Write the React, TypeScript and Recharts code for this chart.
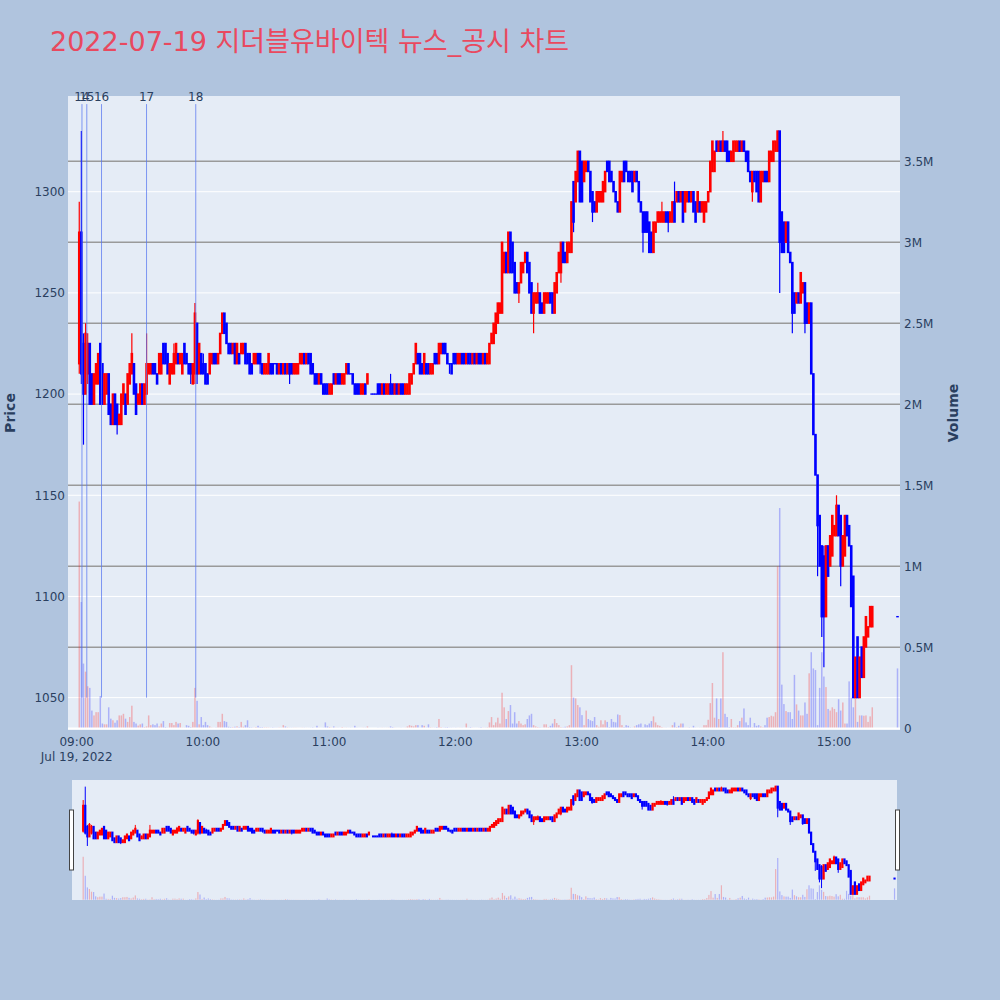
import React from 'react'
import { ComposedChart, Bar, XAxis, YAxis, CartesianGrid, ReferenceLine } from 'recharts'

// 1-minute candles, [open, high, low, close]; index = minute of the hour, null = no trade
const bars0900 = [
  null,
  [1215, 1295, 1210, 1280], [1280, 1330, 1205, 1210], [1225, 1230, 1175, 1200], [1200, 1235, 1200, 1230],
  [1210, 1230, 1205, 1225], [1225, 1225, 1195, 1195], [1210, 1210, 1195, 1195], [1195, 1210, 1195, 1210],
  [1205, 1215, 1205, 1215], [1205, 1220, 1205, 1220], [1225, 1225, 1195, 1195], [1215, 1215, 1195, 1195],
  [1195, 1210, 1195, 1210], [1200, 1210, 1200, 1210], [1210, 1210, 1190, 1190], [1195, 1195, 1185, 1185],
  [1185, 1200, 1185, 1200], [1200, 1200, 1185, 1185], [1195, 1195, 1180, 1185], [1185, 1190, 1185, 1190],
  [1185, 1200, 1185, 1200], [1195, 1205, 1195, 1205], [1200, 1200, 1190, 1190], [1195, 1210, 1195, 1210],
  [1205, 1215, 1205, 1215], [1210, 1230, 1210, 1220], [1215, 1215, 1200, 1200], [1205, 1205, 1190, 1190],
  [1195, 1200, 1195, 1200], [1195, 1205, 1195, 1205], [1205, 1205, 1195, 1195], [1195, 1205, 1195, 1205],
  [1200, 1230, 1200, 1215], [1210, 1215, 1210, 1215], [1210, 1215, 1210, 1215], [1215, 1215, 1210, 1210],
  [1215, 1215, 1210, 1210], [1210, 1210, 1205, 1205], [1210, 1220, 1210, 1220], [1210, 1220, 1210, 1220],
  [1225, 1225, 1215, 1215], [1225, 1225, 1215, 1215], [1220, 1220, 1210, 1210], [1205, 1215, 1205, 1215],
  [1210, 1215, 1210, 1215], [1210, 1225, 1210, 1220], [1215, 1225, 1215, 1225], [1220, 1220, 1215, 1215],
  [1215, 1220, 1215, 1220], [1210, 1220, 1210, 1220], [1225, 1225, 1215, 1215], [1220, 1220, 1215, 1215],
  [1215, 1215, 1210, 1210], [1215, 1215, 1205, 1210], [1205, 1215, 1205, 1215], [1210, 1245, 1205, 1240],
  [1235, 1235, 1205, 1210], [1210, 1225, 1210, 1225], [1220, 1220, 1210, 1210],
]
const bars1000 = [
  [1215, 1220, 1210, 1210], [1215, 1215, 1205, 1205], [1210, 1210, 1205, 1205], [1210, 1220, 1210, 1220],
  [1215, 1220, 1215, 1220], [1220, 1220, 1215, 1215], [1220, 1220, 1215, 1215], [1215, 1220, 1215, 1220],
  [1220, 1230, 1220, 1230], [1230, 1240, 1230, 1240], [1240, 1240, 1230, 1230], [1235, 1235, 1225, 1225],
  [1225, 1225, 1220, 1220], [1225, 1225, 1220, 1220], [1220, 1225, 1220, 1225], [1225, 1225, 1215, 1215],
  [1215, 1225, 1215, 1225], [1220, 1220, 1215, 1215], [1220, 1225, 1220, 1225], [1220, 1225, 1220, 1225],
  [1225, 1225, 1215, 1215], [1220, 1220, 1215, 1215], [1220, 1220, 1210, 1210], [1215, 1215, 1210, 1210],
  [1215, 1220, 1215, 1220], [1215, 1220, 1215, 1220], [1220, 1220, 1215, 1215], [1220, 1220, 1210, 1215],
  [1215, 1215, 1210, 1210], [1210, 1215, 1210, 1215], [1210, 1215, 1210, 1215], [1210, 1220, 1210, 1220],
  [1215, 1215, 1210, 1210], [1215, 1215, 1210, 1210], [1215, 1215, 1215, 1215], [1215, 1215, 1210, 1210],
  [1210, 1215, 1210, 1215], [1215, 1215, 1210, 1210], [1210, 1215, 1210, 1215], [1215, 1215, 1210, 1210],
  [1210, 1215, 1210, 1215], [1215, 1215, 1205, 1210], [1215, 1215, 1210, 1210], [1210, 1215, 1210, 1215],
  [1210, 1215, 1210, 1215], [1210, 1215, 1210, 1215], [1215, 1220, 1215, 1220], [1215, 1220, 1215, 1220],
  [1220, 1220, 1215, 1215], [1215, 1220, 1215, 1220], [1220, 1220, 1215, 1215], [1220, 1220, 1210, 1210],
  [1215, 1215, 1210, 1210], [1210, 1210, 1205, 1205], [1210, 1210, 1205, 1205], [1205, 1210, 1205, 1210],
  [1210, 1210, 1205, 1205], [1205, 1205, 1200, 1200], [1205, 1205, 1200, 1200], [1205, 1205, 1200, 1200],
]
const bars1100 = [
  [1200, 1205, 1200, 1205], [1200, 1205, 1200, 1205], [1210, 1210, 1205, 1205], [1205, 1210, 1205, 1210],
  [1210, 1210, 1205, 1205], [1210, 1210, 1205, 1205], [1205, 1210, 1205, 1210], [1205, 1210, 1205, 1210],
  [1210, 1215, 1210, 1215], [1215, 1215, 1210, 1210], [1210, 1210, 1210, 1210], [1210, 1210, 1205, 1205],
  [1205, 1205, 1200, 1200], [1205, 1205, 1200, 1200], [1205, 1205, 1200, 1200], [1200, 1205, 1200, 1205],
  [1200, 1205, 1200, 1205], [1205, 1205, 1200, 1200], [1205, 1210, 1205, 1210], null,
  [1200, 1200, 1200, 1200], [1200, 1200, 1200, 1200], [1200, 1200, 1200, 1200], [1205, 1205, 1200, 1200],
  [1205, 1205, 1200, 1200], [1200, 1205, 1200, 1205], [1205, 1205, 1200, 1200], [1200, 1205, 1200, 1205],
  [1200, 1205, 1200, 1205], [1205, 1210, 1200, 1200], [1205, 1205, 1200, 1200], [1200, 1205, 1200, 1205],
  [1205, 1205, 1200, 1200], [1200, 1205, 1200, 1205], [1205, 1205, 1200, 1200], [1205, 1205, 1200, 1200],
  [1200, 1205, 1200, 1205], [1200, 1205, 1200, 1205], [1200, 1210, 1200, 1210], [1205, 1210, 1205, 1210],
  [1210, 1215, 1210, 1215], [1215, 1225, 1215, 1225], [1220, 1220, 1215, 1215], [1220, 1220, 1210, 1210],
  [1215, 1215, 1210, 1210], [1210, 1220, 1210, 1220], [1215, 1215, 1210, 1210], [1215, 1215, 1210, 1210],
  [1210, 1215, 1210, 1215], [1210, 1215, 1210, 1215], [1220, 1220, 1215, 1215], [1220, 1220, 1215, 1215],
  [1215, 1225, 1215, 1225], [1220, 1225, 1220, 1225], [1225, 1225, 1220, 1220], [1225, 1225, 1220, 1220],
  [1220, 1220, 1215, 1215], [1215, 1215, 1210, 1215], [1215, 1215, 1210, 1210], [1220, 1220, 1215, 1215],
]
const bars1200 = [
  [1220, 1220, 1215, 1215], [1215, 1220, 1215, 1220], [1215, 1220, 1215, 1220], [1220, 1220, 1215, 1215],
  [1220, 1220, 1215, 1215], [1215, 1220, 1215, 1220], [1220, 1220, 1215, 1215], [1220, 1220, 1215, 1215],
  [1215, 1220, 1215, 1220], [1220, 1220, 1215, 1215], [1215, 1220, 1215, 1220], [1220, 1220, 1215, 1215],
  [1220, 1220, 1215, 1215], [1215, 1220, 1215, 1220], [1220, 1220, 1215, 1215], [1215, 1220, 1215, 1220],
  [1215, 1225, 1215, 1225], [1225, 1230, 1225, 1230], [1225, 1235, 1225, 1235], [1230, 1240, 1230, 1240],
  [1235, 1245, 1235, 1245], [1240, 1245, 1240, 1245], [1240, 1275, 1240, 1275], [1260, 1270, 1260, 1270],
  [1270, 1270, 1260, 1260], [1260, 1280, 1260, 1280], [1280, 1280, 1260, 1260], [1275, 1275, 1260, 1260],
  [1265, 1265, 1250, 1250], [1255, 1255, 1250, 1250], [1250, 1255, 1245, 1255], [1255, 1265, 1255, 1265],
  [1260, 1265, 1260, 1265], [1265, 1270, 1265, 1270], [1270, 1270, 1260, 1260], [1265, 1265, 1250, 1250],
  [1255, 1255, 1240, 1240], [1240, 1250, 1230, 1250], [1245, 1250, 1245, 1250], [1245, 1255, 1245, 1250],
  [1250, 1250, 1240, 1240], [1245, 1245, 1240, 1240], [1240, 1250, 1240, 1250], [1245, 1250, 1245, 1250],
  [1245, 1250, 1245, 1250], [1250, 1250, 1245, 1245], [1250, 1250, 1240, 1240], [1240, 1255, 1240, 1255],
  [1250, 1260, 1250, 1260], [1260, 1270, 1260, 1270], [1260, 1275, 1255, 1275], [1275, 1275, 1265, 1265],
  [1270, 1270, 1265, 1265], [1265, 1275, 1265, 1275], [1270, 1275, 1270, 1275], [1270, 1295, 1270, 1295],
  [1305, 1305, 1280, 1285], [1295, 1310, 1295, 1310], [1305, 1320, 1305, 1320], [1320, 1320, 1295, 1295],
]
const bars1300 = [
  [1315, 1315, 1295, 1295], [1305, 1315, 1305, 1315], [1310, 1315, 1310, 1315], [1315, 1315, 1310, 1310],
  [1310, 1310, 1295, 1295], [1300, 1300, 1285, 1290], [1295, 1295, 1290, 1290], [1290, 1300, 1290, 1300],
  [1295, 1300, 1295, 1300], [1295, 1300, 1295, 1300], [1295, 1305, 1295, 1305], [1300, 1310, 1300, 1310],
  [1315, 1315, 1310, 1310], [1315, 1315, 1305, 1305], [1310, 1310, 1305, 1305], [1305, 1305, 1300, 1300],
  [1300, 1300, 1295, 1295], [1295, 1295, 1290, 1290], [1290, 1310, 1290, 1310], [1305, 1310, 1305, 1310],
  [1315, 1315, 1305, 1305], [1315, 1315, 1310, 1310], [1310, 1310, 1305, 1305], [1310, 1310, 1305, 1305],
  [1310, 1310, 1300, 1300], [1305, 1310, 1305, 1310], [1310, 1310, 1305, 1305], [1305, 1305, 1295, 1295],
  [1295, 1295, 1290, 1290], [1290, 1290, 1270, 1280], [1290, 1290, 1280, 1280], [1290, 1290, 1280, 1280],
  [1285, 1285, 1270, 1270], [1280, 1280, 1270, 1270], [1270, 1285, 1270, 1285], [1280, 1285, 1280, 1285],
  [1285, 1290, 1285, 1290], [1285, 1290, 1285, 1290], [1285, 1295, 1285, 1290], [1285, 1290, 1285, 1290],
  [1290, 1290, 1285, 1285], [1290, 1290, 1280, 1285], [1285, 1290, 1285, 1290], [1285, 1295, 1285, 1295],
  [1295, 1305, 1285, 1285], [1295, 1300, 1295, 1300], [1300, 1300, 1295, 1295], [1295, 1300, 1295, 1300],
  [1300, 1300, 1285, 1285], [1290, 1300, 1290, 1300], [1295, 1300, 1295, 1300], [1300, 1300, 1295, 1295],
  [1295, 1300, 1295, 1300], [1300, 1300, 1290, 1290], [1295, 1295, 1285, 1285], [1290, 1300, 1290, 1300],
  [1295, 1295, 1290, 1290], [1290, 1295, 1290, 1295], [1285, 1295, 1285, 1295], [1290, 1295, 1290, 1295],
]
const bars1400 = [
  [1295, 1300, 1295, 1300], [1300, 1315, 1300, 1315], [1310, 1325, 1310, 1325], [1310, 1320, 1310, 1320],
  [1325, 1325, 1320, 1320], [1320, 1325, 1320, 1325], [1325, 1325, 1320, 1320], [1320, 1330, 1320, 1325],
  [1325, 1325, 1320, 1320], [1325, 1325, 1315, 1315], [1320, 1320, 1315, 1315], [1315, 1320, 1315, 1320],
  [1315, 1325, 1315, 1325], [1320, 1325, 1320, 1325], [1320, 1325, 1320, 1325], [1325, 1325, 1320, 1320],
  [1320, 1325, 1320, 1325], [1325, 1325, 1320, 1320], [1320, 1320, 1315, 1315], [1320, 1320, 1310, 1310],
  [1310, 1310, 1305, 1305], [1300, 1310, 1295, 1310], [1310, 1310, 1305, 1305], [1310, 1310, 1300, 1300],
  [1310, 1310, 1295, 1295], [1295, 1310, 1295, 1310], [1305, 1310, 1305, 1310], [1310, 1310, 1305, 1305],
  [1310, 1310, 1305, 1305], [1305, 1320, 1305, 1320], [1315, 1320, 1315, 1320], [1315, 1325, 1315, 1325],
  [1320, 1325, 1320, 1325], [1320, 1330, 1320, 1330], [1330, 1330, 1250, 1275], [1290, 1290, 1270, 1270],
  [1285, 1285, 1270, 1270], [1275, 1285, 1275, 1285], [1285, 1285, 1270, 1270], [1270, 1270, 1265, 1265],
  [1265, 1265, 1230, 1240], [1250, 1250, 1240, 1240], [1245, 1250, 1245, 1250], [1250, 1250, 1245, 1245],
  [1245, 1260, 1245, 1260], [1250, 1255, 1250, 1255], [1255, 1255, 1230, 1235], [1245, 1245, 1235, 1235],
  [1235, 1245, 1235, 1245], [1245, 1245, 1210, 1210], [1210, 1210, 1180, 1180], [1180, 1180, 1160, 1160],
  [1160, 1160, 1110, 1135], [1140, 1140, 1115, 1115], [1125, 1125, 1080, 1090], [1120, 1125, 1065, 1090],
  [1090, 1125, 1090, 1125], [1125, 1125, 1110, 1110], [1115, 1130, 1115, 1130], [1120, 1140, 1120, 1140],
]
const bars1500 = [
  [1130, 1135, 1130, 1135], [1130, 1150, 1130, 1145], [1145, 1145, 1130, 1130], [1140, 1140, 1105, 1115],
  [1115, 1130, 1115, 1130], [1120, 1140, 1120, 1140], [1140, 1140, 1130, 1130], [1135, 1135, 1125, 1125],
  [1125, 1125, 1095, 1095], [1110, 1110, 1050, 1050], [1050, 1070, 1050, 1070], [1080, 1080, 1050, 1050],
  [1050, 1070, 1050, 1070], [1075, 1075, 1060, 1060], [1060, 1080, 1060, 1080], [1075, 1090, 1075, 1090],
  [1080, 1085, 1080, 1085], [1085, 1095, 1085, 1095], [1085, 1095, 1085, 1095],
  null, null, null, null, null, null, null, null, null, null, null,
  [1090, 1090, 1090, 1090],
]

// volume per minute, thousands of shares
const vol0900 = [0, 1400, 780, 400, 350, 260, 250, 110, 80, 100, 100, 200, 30, 25, 25, 130, 60, 50, 35, 50,
  80, 80, 90, 60, 40, 70, 140, 40, 30, 17, 25, 30, 8, 12, 80, 20, 25, 20, 30, 12,
  30, 45, 8, 4, 33, 33, 20, 40, 30, 33, 4, 4, 20, 16, 8, 40, 250, 170, 25, 70]
const vol1000 = [20, 40, 20, 12, 5, 3, 5, 40, 40, 90, 45, 40, 10, 8, 8, 10, 12, 8, 40, 10,
  20, 50, 8, 6, 4, 8, 16, 8, 8, 6, 6, 5, 4, 6, 4, 4, 5, 4, 20, 12,
  6, 4, 4, 4, 4, 3, 3, 4, 4, 3, 3, 4, 6, 3, 16, 4, 3, 4, 37, 12]
const vol1100 = [8, 4, 12, 4, 4, 3, 8, 3, 4, 3, 4, 3, 16, 4, 3, 3, 4, 4, 12, 0,
  2, 2, 2, 4, 3, 4, 3, 3, 4, 12, 8, 4, 3, 3, 4, 3, 4, 12, 20, 16,
  12, 20, 20, 4, 20, 16, 4, 25, 6, 4, 4, 8, 58, 8, 4, 6, 8, 4, 4, 3]
const vol1200 = [4, 3, 4, 4, 3, 30, 4, 8, 4, 3, 3, 4, 8, 4, 4, 6, 37, 70, 20, 37,
  66, 30, 220, 130, 58, 107, 144, 30, 100, 30, 45, 30, 20, 25, 58, 80, 90, 20, 12, 8,
  6, 4, 25, 25, 8, 16, 30, 58, 33, 20, 8, 6, 10, 12, 20, 390, 190, 185, 144, 130]
const vol1300 = [82, 20, 110, 58, 50, 45, 70, 20, 10, 50, 25, 50, 40, 8, 58, 40, 37, 86, 82, 20,
  8, 20, 16, 6, 4, 12, 20, 25, 30, 6, 25, 20, 30, 45, 74, 37, 20, 16, 8, 4,
  4, 3, 4, 20, 37, 8, 16, 30, 30, 4, 4, 6, 4, 16, 4, 3, 4, 4, 20, 20]
const vol1400 = [53, 156, 280, 66, 185, 58, 185, 470, 90, 70, 8, 58, 6, 6, 20, 45, 66, 123, 37, 20,
  66, 6, 33, 16, 20, 12, 6, 20, 66, 70, 78, 74, 100, 1000, 1360, 270, 150, 107, 100, 100,
  58, 330, 148, 110, 80, 80, 160, 90, 340, 470, 370, 360, 20, 250, 470, 320, 255, 120, 110, 130]
const vol1500 = [120, 100, 180, 110, 160, 30, 30, 290, 190, 130, 185, 40, 80, 80, 78, 80, 40, 74, 130,
  0, 0, 0, 0, 0, 0, 0, 0, 0, 0, 0, 370]

// news / disclosure markers (minutes after 09:00)
const newsIds = ['14', '15', '16', '17', '18']
const newsMinutes = [2.5, 4.8, 11.8, 33.2, 56.6]

const timeTicks = [0, 60, 120, 180, 240, 300, 360]
const priceTicks = [1050, 1100, 1150, 1200, 1250, 1300]
const volumeTicks = [0, 500, 1000, 1500, 2000, 2500, 3000, 3500]

const X_DOMAIN = [-4.14, 391.4]
const PRICE_DOMAIN = [1034, 1347.3]
const VOL_DOMAIN = [-10, 3903]

const RED = '#ff0000'
const BLUE = '#0000ff'
const PLOT_BG = '#E5ECF6'
const PAGE_BG = '#B0C4DE'
const TEXT = '#2a3f5f'
const FONT = '"DejaVu Sans", Verdana, sans-serif'

const hourBars = [bars0900, bars1000, bars1100, bars1200, bars1300, bars1400, bars1500]
const hourVols = [vol0900, vol1000, vol1100, vol1200, vol1300, vol1400, vol1500]

const rows: any[] = []
hourBars.forEach((bars, h) => {
  bars.forEach((b, m) => {
    if (!b) return
    const [open, high, low, close] = b
    rows.push({ t: h * 60 + m, open, high, low, close, range: [low, high], volume: hourVols[h][m], up: close > open })
  })
})

const makeCandle = (bodyW: number, wickW: number, minBody: number) => (props: any) => {
  const { x, y, width, height, payload } = props
  const { open, close, high, low, up } = payload
  const color = up ? RED : BLUE
  const cx = x + width / 2
  if (high === low) {
    const yc = y + height
    return <rect x={cx - bodyW / 2} y={yc - minBody / 2} width={bodyW} height={minBody} fill={color} />
  }
  const k = height / (high - low)
  const top = y + (high - Math.max(open, close)) * k
  const bot = y + (high - Math.min(open, close)) * k
  const bh = Math.max(bot - top, 0) + minBody
  return (
    <g>
      <line x1={cx} x2={cx} y1={y} y2={y + height} stroke={color} strokeWidth={wickW} />
      <rect x={cx - bodyW / 2} y={top - minBody / 2} width={bodyW} height={bh} fill={color} />
    </g>
  )
}

const makeVolume = (w: number) => (props: any) => {
  const { x, y, width, height, payload } = props
  if (!height || height <= 0) return <g />
  const cx = x + width / 2
  return <rect x={cx - w / 2} y={y} width={w} height={height} fill={payload.up ? RED : BLUE} fillOpacity={0.25} />
}

const candleShape = makeCandle(2.6, 1.2, 1.4)
const volumeShape = makeVolume(1.5)
const miniCandleShape = makeCandle(2.2, 1, 2)
const miniVolumeShape = makeVolume(1.2)

const hhmm = (m: number) => `${String(9 + Math.floor(m / 60)).padStart(2, '0')}:${String(m % 60).padStart(2, '0')}`

const TimeTick = (props: any) => {
  const { x, y, payload } = props
  return (
    <g>
      <text x={x} y={y} dy={16} textAnchor="middle" fill={TEXT} fontSize={12} fontFamily={FONT}>{hhmm(payload.value)}</text>
      {payload.value === 0 && (
        <text x={x} y={y} dy={31} textAnchor="middle" fill={TEXT} fontSize={12} fontFamily={FONT}>Jul 19, 2022</text>
      )}
    </g>
  )
}

const volFormat = (v: number) => (v === 0 ? '0' : `${v / 1000}M`)

export default function App() {
  return (
    <div style={{ position: 'absolute', left: 0, top: 0, width: 1000, height: 1000, background: PAGE_BG }}>
      <div style={{ position: 'absolute', left: 0, top: 0 }}>
        <ComposedChart width={1000} height={780} data={rows} margin={{ top: 96, right: 0, bottom: 0, left: 0 }} barGap={-1}>
          <CartesianGrid yAxisId="price" vertical={false} horizontalValues={priceTicks} stroke="#ffffff" strokeWidth={1} fill={PLOT_BG} fillOpacity={1} />
          <CartesianGrid yAxisId="vol" vertical={false} horizontalValues={volumeTicks.slice(1)} stroke="#9a9a9a" strokeWidth={1.5} />
          <XAxis dataKey="t" type="number" domain={X_DOMAIN} ticks={timeTicks} interval={0} allowDataOverflow
            axisLine={false} tickLine={false} tickSize={0} tickMargin={0} height={50} tick={TimeTick} />
          <YAxis yAxisId="price" orientation="left" width={68} domain={PRICE_DOMAIN} ticks={priceTicks} interval={0}
            allowDataOverflow axisLine={false} tickLine={false} tickSize={0} tickMargin={3}
            tick={{ fill: TEXT, fontSize: 12, fontFamily: FONT }} />
          <YAxis yAxisId="vol" orientation="right" width={100} domain={VOL_DOMAIN} ticks={volumeTicks} interval={0}
            allowDataOverflow axisLine={false} tickLine={false} tickSize={0} tickMargin={4} tickFormatter={volFormat}
            tick={{ fill: TEXT, fontSize: 12, fontFamily: FONT }} />
          <Bar yAxisId="vol" dataKey="volume" barSize={1} shape={volumeShape} isAnimationActive={false} />
          <ReferenceLine yAxisId="vol" y={0} stroke="#ffffff" strokeWidth={2} />
          <Bar yAxisId="price" dataKey="range" barSize={1} minPointSize={1} shape={candleShape} isAnimationActive={false} />
          {newsIds.map((id, i) => (
            <ReferenceLine key={id} yAxisId="price"
              segment={[{ x: newsMinutes[i], y: 1050 }, { x: newsMinutes[i], y: 1343.3 }]}
              stroke="#5a78f0" strokeOpacity={0.75} strokeWidth={1}
              label={{ value: id, position: 'top', offset: 3, fill: TEXT, fontSize: 12, fontFamily: FONT }} />
          ))}
        </ComposedChart>
      </div>

      <div style={{ position: 'absolute', left: 72, top: 780, width: 825, height: 120, background: PLOT_BG }}>
        <ComposedChart width={825} height={120} data={rows} margin={{ top: 0, right: 0, bottom: 0, left: 0 }} barGap={-1}>
          <XAxis dataKey="t" type="number" domain={X_DOMAIN} hide allowDataOverflow />
          <YAxis yAxisId="price" hide domain={PRICE_DOMAIN} allowDataOverflow />
          <YAxis yAxisId="vol" hide domain={VOL_DOMAIN} allowDataOverflow />
          <Bar yAxisId="vol" dataKey="volume" barSize={1} shape={miniVolumeShape} isAnimationActive={false} />
          <Bar yAxisId="price" dataKey="range" barSize={1} minPointSize={1} shape={miniCandleShape} isAnimationActive={false} />
        </ComposedChart>
      </div>

      <svg width={1000} height={1000} style={{ position: 'absolute', left: 0, top: 0, pointerEvents: 'none' }}>
        <text x={50} y={51} fill="#E9495F" fontSize={27} fontFamily={'"DejaVu Sans", "Noto Sans CJK KR", sans-serif'}>
          2022-07-19 지더블유바이텍 뉴스_공시 차트
        </text>
        <text x={10} y={413} transform="rotate(-90 10 413)" textAnchor="middle" dominantBaseline="central"
          fill={TEXT} fontSize={14} fontWeight="bold" fontFamily={FONT}>Price</text>
        <text x={953} y={413} transform="rotate(-90 953 413)" textAnchor="middle" dominantBaseline="central"
          fill={TEXT} fontSize={14} fontWeight="bold" fontFamily={FONT}>Volume</text>
        <rect x={69.5} y={810} width={4} height={60} fill="#ffffff" stroke="#444444" strokeWidth={1} />
        <rect x={895.5} y={810} width={4} height={60} fill="#ffffff" stroke="#444444" strokeWidth={1} />
      </svg>
    </div>
  )
}
